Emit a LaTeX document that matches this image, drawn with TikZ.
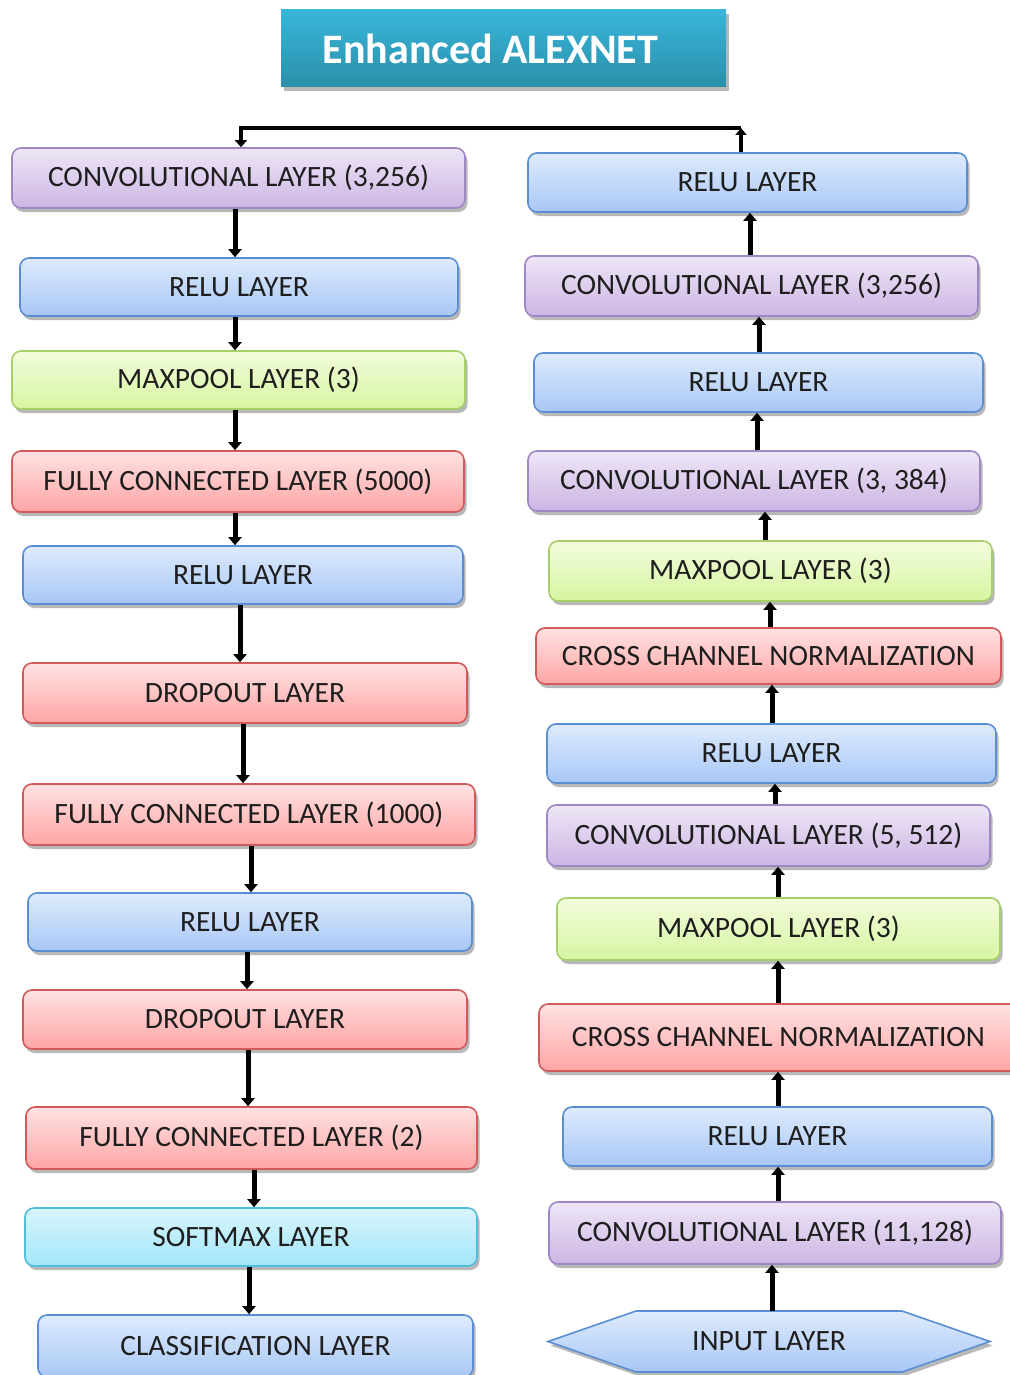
\documentclass[tikz,border=0pt]{standalone}
\usepackage{fontspec}
\setmainfont{Carlito}
\usetikzlibrary{shadows,arrows.meta,calc}
\definecolor{purT}{HTML}{EEE6F6}\definecolor{purBot}{HTML}{CDB5E4}\definecolor{purB}{HTML}{9F86C4}
\definecolor{bluT}{HTML}{DEEBFC}\definecolor{bluBot}{HTML}{A8C7F6}\definecolor{bluB}{HTML}{5A8ED3}
\definecolor{grnT}{HTML}{F3FCDD}\definecolor{grnBot}{HTML}{D6F5A0}\definecolor{grnB}{HTML}{A6CE6A}
\definecolor{redT}{HTML}{FFE2E2}\definecolor{redBot}{HTML}{FFA5A5}\definecolor{redB}{HTML}{D25A5A}
\definecolor{cyaT}{HTML}{D8F5FD}\definecolor{cyaBot}{HTML}{A2E6F9}\definecolor{cyaB}{HTML}{52BDDA}
\definecolor{titT}{HTML}{38B6DA}\definecolor{titBot}{HTML}{2B8FAA}
\definecolor{txt}{HTML}{1E1E1E}
\tikzset{
  shad/.style={drop shadow={shadow xshift=2.5pt, shadow yshift=-4pt, opacity=0.28, fill=black}},
  layerbox/.style={rounded corners=9pt, line width=1.6pt, font=\fontsize{29.5}{33}\selectfont, text=txt, inner sep=0pt, shad},
  purplebox/.style={layerbox, draw=purB, top color=purT, bottom color=purBot},
  bluebox/.style={layerbox, draw=bluB, top color=bluT, bottom color=bluBot},
  greenbox/.style={layerbox, draw=grnB, top color=grnT, bottom color=grnBot},
  redbox/.style={layerbox, draw=redB, top color=redT, bottom color=redBot},
  cyanbox/.style={layerbox, draw=cyaB, top color=cyaT, bottom color=cyaBot},
  titlebox/.style={top color=titT, bottom color=titBot, text=white, inner sep=0pt, font=\fontsize{42}{46}\selectfont\bfseries, shad},
  arr/.style={line width=5pt, -{Triangle[length=8pt,width=13pt]}},
}
\begin{document}
\begin{tikzpicture}[x=1pt,y=-1pt]
\useasboundingbox (0,0) rectangle (1009,1375);
\fill[white] (0,0) rectangle (1009,1375);

\node[titlebox, minimum width=445, minimum height=77] (T) at (503.5,48.5) {\hspace*{-26pt}Enhanced ALEXNET};

% left column
\node[purplebox, minimum width=453, minimum height=60] (L1) at (238.5,178) {CONVOLUTIONAL LAYER (3,256)};
\node[bluebox, minimum width=438, minimum height=58] (L2) at (239,287) {RELU LAYER};
\node[greenbox, minimum width=453, minimum height=58] (L3) at (238.5,380) {MAXPOOL LAYER (3)};
\node[redbox, minimum width=452, minimum height=61] (L4) at (238,481.5) {FULLY CONNECTED LAYER (5000)};
\node[bluebox, minimum width=440, minimum height=58] (L5) at (243,575) {RELU LAYER};
\node[redbox, minimum width=444, minimum height=60] (L6) at (245,693) {DROPOUT LAYER};
\node[redbox, minimum width=452, minimum height=61] (L7) at (249,814.5) {FULLY CONNECTED LAYER (1000)};
\node[bluebox, minimum width=444, minimum height=58] (L8) at (250,922) {RELU LAYER};
\node[redbox, minimum width=444, minimum height=59] (L9) at (245,1019.5) {DROPOUT LAYER};
\node[redbox, minimum width=451, minimum height=62] (L10) at (251.5,1138) {FULLY CONNECTED LAYER (2)};
\node[cyanbox, minimum width=452, minimum height=58] (L11) at (251,1237) {SOFTMAX LAYER};
\node[bluebox, minimum width=435, minimum height=62] (L12) at (255.5,1346) {CLASSIFICATION LAYER};

% right column
\node[bluebox, minimum width=439, minimum height=59] (R1) at (747.5,182.5) {RELU LAYER};
\node[purplebox, minimum width=453, minimum height=60] (R2) at (751.5,286) {CONVOLUTIONAL LAYER (3,256)};
\node[bluebox, minimum width=449, minimum height=59] (R3) at (758.5,382.5) {RELU LAYER};
\node[purplebox, minimum width=452, minimum height=60] (R4) at (754,481) {CONVOLUTIONAL LAYER (3, 384)};
\node[greenbox, minimum width=443, minimum height=60] (R5) at (770.5,571) {MAXPOOL LAYER (3)};
\node[redbox, minimum width=465, minimum height=56] (R6) at (768.5,656) {CROSS CHANNEL NORMALIZATION};
\node[bluebox, minimum width=449, minimum height=59] (R7) at (771.5,753.5) {RELU LAYER};
\node[purplebox, minimum width=443, minimum height=61] (R8) at (768.5,835.5) {CONVOLUTIONAL LAYER (5, 512)};
\node[greenbox, minimum width=443, minimum height=62] (R9) at (778.5,929) {MAXPOOL LAYER (3)};
\node[redbox, minimum width=481, minimum height=67] (R10) at (779.5,1037.5) {\hspace*{-2pt}CROSS CHANNEL NORMALIZATION};
\node[bluebox, minimum width=429, minimum height=59] (R11) at (777.5,1136.5) {RELU LAYER};
\node[purplebox, minimum width=452, minimum height=62] (R12) at (775,1233) {CONVOLUTIONAL LAYER (11,128)};
% input layer hexagon
\path[shad, draw=bluB, line width=1.6pt, top color=bluT, bottom color=bluBot]
  (548,1341.5) -- (636,1311) -- (902,1311) -- (990,1341.5) -- (902,1372) -- (636,1372) -- cycle;
\node[font=\fontsize{29.5}{33}\selectfont, text=txt, inner sep=0pt, minimum width=442, minimum height=61] (R13) at (769,1341.5) {INPUT LAYER};

% left arrows (downward)
\draw[arr] (235,0 |- L1.south) -- (235,0 |- L2.north);
\draw[arr] (235,0 |- L2.south) -- (235,0 |- L3.north);
\draw[arr] (235,0 |- L3.south) -- (235,0 |- L4.north);
\draw[arr] (235,0 |- L4.south) -- (235,0 |- L5.north);
\draw[arr] (240,0 |- L5.south) -- (240,0 |- L6.north);
\draw[arr] (243,0 |- L6.south) -- (243,0 |- L7.north);
\draw[arr] (251,0 |- L7.south) -- (251,0 |- L8.north);
\draw[arr] (247,0 |- L8.south) -- (247,0 |- L9.north);
\draw[arr] (248,0 |- L9.south) -- (248,0 |- L10.north);
\draw[arr] (254,0 |- L10.south) -- (254,0 |- L11.north);
\draw[arr] (249,0 |- L11.south) -- (249,0 |- L12.north);

% right arrows (upward)
\draw[arr] (750,0 |- R2.north) -- (750,0 |- R1.south);
\draw[arr] (759,0 |- R3.north) -- (759,0 |- R2.south);
\draw[arr] (757,0 |- R4.north) -- (757,0 |- R3.south);
\draw[arr] (765,0 |- R5.north) -- (765,0 |- R4.south);
\draw[arr] (770,0 |- R6.north) -- (770,0 |- R5.south);
\draw[arr] (772,0 |- R7.north) -- (772,0 |- R6.south);
\draw[arr] (775,0 |- R8.north) -- (775,0 |- R7.south);
\draw[arr] (778,0 |- R9.north) -- (778,0 |- R8.south);
\draw[arr] (778,0 |- R10.north) -- (778,0 |- R9.south);
\draw[arr] (778,0 |- R11.north) -- (778,0 |- R10.south);
\draw[arr] (778,0 |- R12.north) -- (778,0 |- R11.south);
\draw[arr] (772,0 |- R13.north) -- (772,0 |- R12.south);

% top connector
\coordinate (cR) at (741,128);
\coordinate (cL) at (241,128);
\draw[line width=4.5pt, -{Triangle[length=7pt,width=11pt]}] (cR |- R1.north) -- (cR);
\draw[line width=4pt, -{Triangle[length=7pt,width=12pt]}] (cR) -- (cL) -- (cL |- L1.north);
\end{tikzpicture}
\end{document}
